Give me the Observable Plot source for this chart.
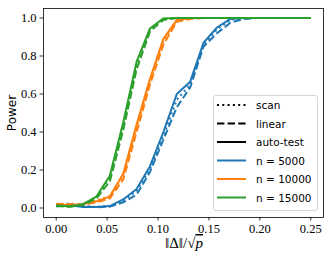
<!DOCTYPE html>
<html>
<head>
<meta charset="utf-8">
<script src="https://cdn.jsdelivr.net/npm/d3@7"></script>
<script src="https://cdn.jsdelivr.net/npm/@observablehq/plot@0.6"></script>
<style>
  html, body { margin: 0; padding: 0; background: #fff; }
  #wrap { position: relative; width: 332px; height: 260px; }
  #legend { position: absolute; left: 0; top: 0; }
  #wrap svg text.sans { font-family: "DejaVu Sans", sans-serif !important; }
</style>
</head>
<body>
<div id="wrap"></div>
<script>
// ---- data ----
const deltas = [0, 0.01316, 0.02632, 0.03947, 0.05263, 0.06579, 0.07895, 0.09211, 0.10526, 0.11842,
                0.13158, 0.14474, 0.15789, 0.17105, 0.18421, 0.19737, 0.21053, 0.22368, 0.23684, 0.25];
const sampleSizes = ["n = 5000", "n = 10000", "n = 15000"];
const methods = ["scan", "linear", "auto-test"];
const colors = ["#1f77b4", "#ff7f0e", "#2ca02c"];

const n5000_auto   = [0.010,0.015,0.005,0.005,0.010,0.045,0.100,0.220,0.400,0.600,0.665,0.870,0.950,0.995,1,1,1,1,1,1];
const n5000_scan   = [0.012,0.025,0.008,0.006,0.010,0.038,0.090,0.205,0.380,0.570,0.650,0.860,0.940,0.990,1,1,1,1,1,1];
const n5000_linear = [0.008,0.020,0.010,0.004,0.007,0.030,0.070,0.190,0.360,0.530,0.635,0.850,0.920,0.975,0.995,1,1,1,1,1];
const n10000_auto   = [0.020,0.015,0.020,0.035,0.060,0.180,0.440,0.680,0.890,0.990,1,1,1,1,1,1,1,1,1,1];
const n10000_scan   = [0.018,0.018,0.022,0.040,0.062,0.170,0.420,0.670,0.880,0.985,1,1,1,1,1,1,1,1,1,1];
const n10000_linear = [0.022,0.020,0.018,0.030,0.050,0.150,0.400,0.650,0.860,0.980,0.995,1,1,1,1,1,1,1,1,1];
const n15000_auto   = [0.015,0.008,0.020,0.060,0.170,0.450,0.770,0.945,0.998,1,1,1,1,1,1,1,1,1,1,1];
const n15000_scan   = [0.012,0.010,0.018,0.055,0.160,0.430,0.750,0.940,0.995,1,1,1,1,1,1,1,1,1,1,1];
const n15000_linear = [0.010,0.006,0.015,0.050,0.140,0.410,0.730,0.930,0.990,1,1,1,1,1,1,1,1,1,1,1];

const xTicks = [0, 0.05, 0.10, 0.15, 0.20, 0.25];
const yTicks = [0, 0.2, 0.4, 0.6, 0.8, 1.0];

const seriesValues = {
  "n = 5000":  {"scan": n5000_scan,  "linear": n5000_linear,  "auto-test": n5000_auto},
  "n = 10000": {"scan": n10000_scan, "linear": n10000_linear, "auto-test": n10000_auto},
  "n = 15000": {"scan": n15000_scan, "linear": n15000_linear, "auto-test": n15000_auto}
};

const dash = {"scan": "2,3.3", "linear": "7.4,3.2", "auto-test": null};

const lineMarks = [];
sampleSizes.forEach((n, k) => {
  methods.forEach(m => {
    const rows = deltas.map((d, i) => ({x: d, y: seriesValues[n][m][i]}));
    lineMarks.push(Plot.line(rows, {
      x: "x", y: "y", stroke: colors[k], strokeWidth: 2,
      strokeDasharray: dash[m] || undefined, strokeLinecap: "butt", strokeLinejoin: "round"
    }));
  });
});

const chart = Plot.plot({
  width: 332, height: 260,
  marginLeft: 43, marginRight: 9, marginTop: 8, marginBottom: 43,
  style: {fontSize: "12px", background: "#fff", color: "#000"},
  x: {domain: [-0.0125, 0.2625]},
  y: {domain: [-0.05, 1.05]},
  marks: [
    ...lineMarks,
    Plot.frame({stroke: "#000", strokeWidth: 0.8}),
    Plot.axisX({ticks: xTicks, tickFormat: d3.format(".2f"), tickSize: 3.5, tickPadding: 3.5, label: null, fontSize: 12, strokeWidth: 0.8}),
    Plot.axisY({ticks: yTicks, tickFormat: d3.format(".1f"), tickSize: 3.5, tickPadding: 3.5, label: null, fontSize: 12, strokeWidth: 0.8})
  ]
});

document.getElementById("wrap").appendChild(chart);

// serif tick labels
d3.select(chart).selectAll('g[aria-label="x-axis tick label"] text, g[aria-label="y-axis tick label"] text')
  .style("font-family", "'Liberation Serif', serif").style("font-size", "12.5px");

// axis labels
const svg = d3.select(chart);
svg.append("text")
  .attr("class", "sans")
  .attr("transform", "translate(12,113) rotate(-90)")
  .attr("text-anchor", "middle")
  .attr("dominant-baseline", "middle")
  .style("font-size", "12px")
  .text("Power");

const xl = svg.append("text")
  .attr("x", 184).attr("y", 248)
  .attr("text-anchor", "middle")
  .style("font-family", "'Liberation Serif', serif")
  .style("font-size", "15px");
xl.append("tspan").text("\u2016\u0394\u2016/\u221A");
xl.append("tspan").style("font-style", "italic").style("text-decoration", "overline").text("p");

// legend overlay
const lg = d3.select("#wrap").append("svg")
  .attr("id", "legend").attr("width", 332).attr("height", 260);
lg.append("rect")
  .attr("x", 213.5).attr("y", 95.5).attr("width", 104).attr("height", 115)
  .attr("rx", 2.5).attr("fill", "#fff").attr("fill-opacity", 0.85)
  .attr("stroke", "#ccc").attr("stroke-width", 0.8);
const legendItems = [
  {label: "scan", color: "#000", dash: dash["scan"]},
  {label: "linear", color: "#000", dash: dash["linear"]},
  {label: "auto-test", color: "#000", dash: null},
  {label: sampleSizes[0], color: colors[0], dash: null},
  {label: sampleSizes[1], color: colors[1], dash: null},
  {label: sampleSizes[2], color: colors[2], dash: null}
];
legendItems.forEach((it, i) => {
  const yy = 105 + i * 18.5;
  lg.append("line").attr("x1", 217).attr("x2", 246).attr("y1", yy).attr("y2", yy)
    .attr("stroke", it.color).attr("stroke-width", 2)
    .attr("stroke-dasharray", it.dash).attr("stroke-linecap", "butt");
  lg.append("text").attr("class", "sans").attr("x", 256).attr("y", yy).attr("dominant-baseline", "central")
    .style("font-size", "10.5px").attr("fill", "#000")
    .attr("xml:space", "preserve")
    .text(it.label);
});
</script>
</body>
</html>
